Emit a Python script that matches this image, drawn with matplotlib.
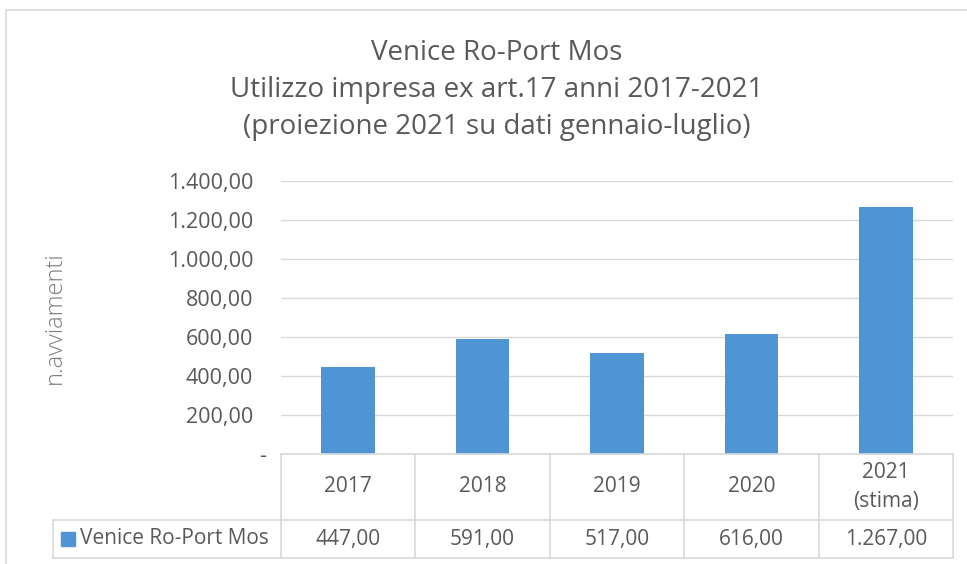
import matplotlib.pyplot as plt
import matplotlib.transforms as mtransforms
from matplotlib.patches import Rectangle
from matplotlib.lines import Line2D

plt.rcParams['font.family'] = ['Open Sans', 'DejaVu Sans']

years = ["2017", "2018", "2019", "2020", "2021\n(stima)"]
avviamenti = [447, 591, 517, 616, 1267]
value_labels = ["447,00", "591,00", "517,00", "616,00", "1.267,00"]
yticks = [0, 200, 400, 600, 800, 1000, 1200, 1400]
ytick_labels = ["-", "200,00", "400,00", "600,00", "800,00", "1.000,00", "1.200,00", "1.400,00"]
series_name = "Venice Ro-Port Mos"
title = "Venice Ro-Port Mos\nUtilizzo impresa ex art.17 anni 2017-2021\n(proiezione 2021 su dati gennaio-luglio)"

W, H = 967, 564
bar_color = "#4F95D4"
text_color = "#595959"
line_color = "#D9D9D9"

fig = plt.figure(figsize=(W / 100, H / 100), dpi=100)

# chart frame
fig.patches.append(Rectangle((6 / W, -0.1), 1.2, 1 - 10 / H + 0.1, transform=fig.transFigure,
                             fill=False, edgecolor=line_color, linewidth=1.2))

ax = fig.add_axes([281 / W, 1 - 454 / H, 672 / W, 273 / H])
x = range(len(years))
ax.bar(x, avviamenti, width=0.4, color=bar_color, zorder=3)
ax.set_xlim(-0.5, len(years) - 0.5)
ax.set_ylim(0, 1400)
ax.set_yticks(yticks)
ax.set_yticklabels(ytick_labels)
ax.set_xticks([])
ax.tick_params(axis="y", length=0, pad=20, labelsize=15.5, labelcolor=text_color)
ax.grid(axis="y", color=line_color, linewidth=1, zorder=0)
for s in ax.spines.values():
    s.set_visible(False)
ax.set_ylabel("n.avviamenti", fontsize=17, color="#7F7F7F", fontweight="light", labelpad=0)
ax.yaxis.set_label_coords(-0.318, 0.5)

# the zero dash sits further right, like Excel's accounting format
dash = ax.get_yticklabels()[0]
dash.set_transform(dash.get_transform() + mtransforms.ScaledTranslation(13 / 100, 0, fig.dpi_scale_trans))

fig.text(497 / W, 1 - 90 / H, title, ha="center", va="center", fontsize=20,
         color=text_color, linespacing=1.45)

# data table under the axis
tr = mtransforms.blended_transform_factory(ax.transData, fig.transFigure)
y_top = 1 - 454 / H
y_mid = 1 - 520 / H
y_bot = 1 - 558 / H
x_left = -0.5 - (281 - 53) / 134.4
n = len(years)
lines = [
    ((-0.5, n - 0.5), (y_top, y_top)),
    ((x_left, n - 0.5), (y_mid, y_mid)),
    ((x_left, n - 0.5), (y_bot, y_bot)),
    ((x_left, x_left), (y_mid, y_bot)),
]
for i in range(n + 1):
    lines.append(((i - 0.5, i - 0.5), (y_top, y_bot)))
for xs, ys in lines:
    fig.add_artist(Line2D(xs, ys, transform=tr, color=line_color, linewidth=1.2))

for i in range(n):
    fig.text(i, (y_top + y_mid) / 2, years[i], transform=tr, ha="center", va="center",
             fontsize=15, color=text_color, linespacing=1.45)
    fig.text(i, (y_mid + y_bot) / 2, value_labels[i], transform=tr, ha="center", va="center",
             fontsize=15, color=text_color)

fig.patches.append(Rectangle((61 / W, 1 - 546 / H), 14 / W, 14 / H, transform=fig.transFigure,
                             color=bar_color))
fig.text(80 / W, (y_mid + y_bot) / 2, series_name, ha="left", va="center",
         fontsize=15, color=text_color)

fig.savefig("out.png", dpi=100)
